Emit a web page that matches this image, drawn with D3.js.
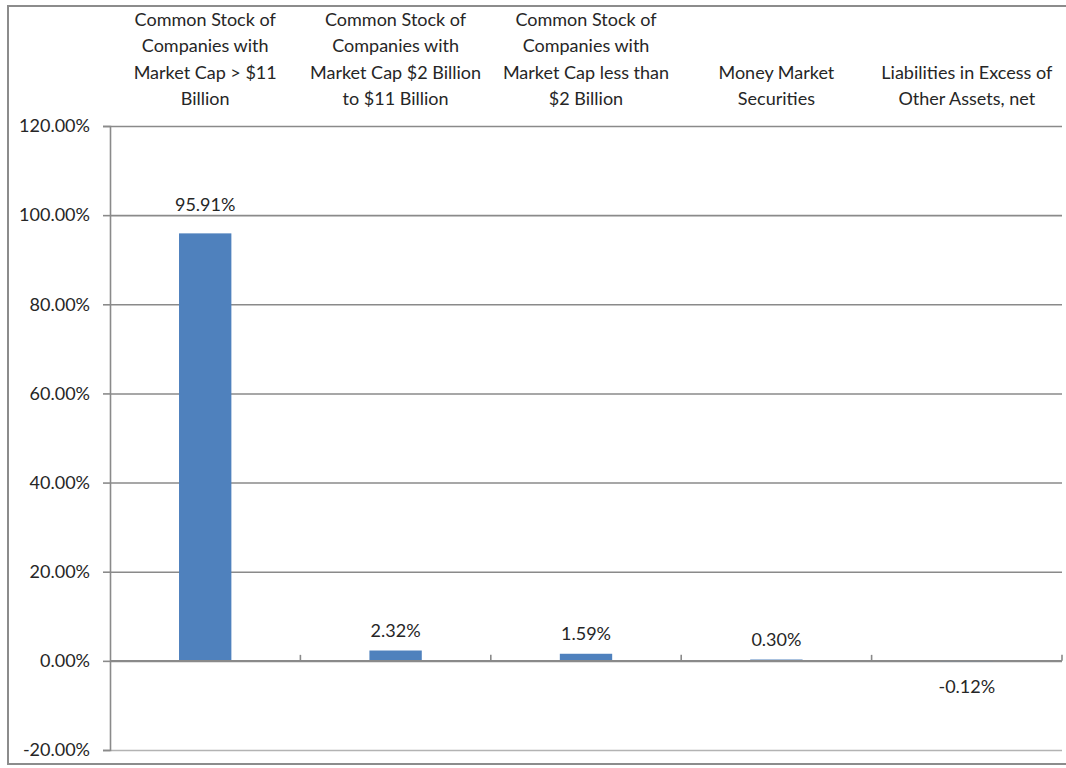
<!DOCTYPE html>
<html>
<head>
<meta charset="utf-8">
<script src="https://cdn.jsdelivr.net/npm/d3@7"></script>
<style>
    body { margin: 0; background: #fff; }
    text { font-family: Lato, "Liberation Sans", sans-serif; fill: #262626; }
</style>
</head>
<body>
<svg id="chart" width="1066" height="768"></svg>
<script>
// categories, each split into the lines shown above the plot
var categories = [
    ["Common Stock of", "Companies with", "Market Cap > $11", "Billion"],
    ["Common Stock of", "Companies with", "Market Cap $2 Billion", "to $11 Billion"],
    ["Common Stock of", "Companies with", "Market Cap less than", "$2 Billion"],
    ["Money Market", "Securities"],
    ["Liabilities in Excess of", "Other Assets, net"]
];
var values = [95.91, 2.32, 1.59, 0.30, -0.12];
var yTicks = [-20, 0, 20, 40, 60, 80, 100, 120];

var svg = d3.select("#chart");
var plotLeft = 110, plotRight = 1062, plotTop = 126, plotBottom = 750;

var x = d3.scaleBand().domain(d3.range(categories.length)).range([plotLeft, plotRight]).padding(0);
var y = d3.scaleLinear().domain([-20, 120]).range([plotBottom, plotTop]);
var fmt = function(d) { return d.toFixed(2) + "%"; };

// outer frame
svg.append("rect").attr("x", 8).attr("y", 6).attr("width", 1060).attr("height", 758)
    .attr("fill", "none").attr("stroke", "#8c8c8c").attr("stroke-width", 2);

// gridlines
var grid = svg.append("g").attr("transform", "translate(" + plotLeft + ",0)")
    .call(d3.axisLeft(y).tickValues(yTicks).tickSize(-(plotRight - plotLeft)).tickFormat(""));
grid.select(".domain").remove();
grid.selectAll("line").attr("stroke", "#8a8a8a").attr("stroke-width", 1.6);
grid.selectAll(".tick").filter(function(d) { return d == -20; }).select("line").attr("stroke", "#b3b3b3");

// y axis with tick labels
var yAxis = svg.append("g").attr("transform", "translate(" + plotLeft + ",0)")
    .call(d3.axisLeft(y).tickValues(yTicks).tickSize(7).tickPadding(13).tickFormat(fmt));
yAxis.select(".domain").attr("stroke", "#8a8a8a").attr("stroke-width", 1.6);
yAxis.selectAll(".tick line").attr("stroke", "#8a8a8a").attr("stroke-width", 1.6);
yAxis.selectAll("text").style("font-size", "18px").style("fill", "#262626")
    .style("font-family", "Lato, 'Liberation Sans', sans-serif");

// bars
var barW = x.bandwidth() * 0.275;
svg.selectAll("rect.bar").data(values).enter().append("rect").attr("class", "bar")
    .attr("x", function(d, i) { return x(i) + (x.bandwidth() - barW) / 2; })
    .attr("y", function(d) { return y(Math.max(0, d)); })
    .attr("width", barW)
    .attr("height", function(d) { return Math.abs(y(d) - y(0)); })
    .attr("fill", "#4f81bd");

// category axis at zero, ticks between categories pointing up
var boundaries = d3.range(1, categories.length + 1).map(function(i) { return plotLeft + i * x.step(); });
svg.append("line").attr("x1", plotLeft).attr("x2", plotRight).attr("y1", y(0)).attr("y2", y(0))
    .attr("stroke", "#8a8a8a").attr("stroke-width", 1.6);
svg.selectAll("line.xt").data(boundaries).enter().append("line").attr("class", "xt")
    .attr("x1", function(d) { return d; }).attr("x2", function(d) { return d; })
    .attr("y1", y(0) - 6).attr("y2", y(0))
    .attr("stroke", "#8a8a8a").attr("stroke-width", 1.6);

// value labels (nudged above a gridline if they would sit on it)
function labelY(d) {
    if (d < 0) return y(d) + 32;
    var base = y(d) - 14;
    yTicks.forEach(function(t) {
        if (t != 0 && y(t) > base - 14 && y(t) < base + 4) base = y(t) - 4;
    });
    return base;
}
svg.selectAll("text.val").data(values).enter().append("text").attr("class", "val")
    .attr("x", function(d, i) { return x(i) + x.bandwidth() / 2; })
    .attr("y", labelY)
    .attr("text-anchor", "middle")
    .style("font-size", "18px")
    .text(fmt);

// category labels, bottom aligned above the plot
var lineH = 26.4;
categories.forEach(function(lines, i) {
    var t = svg.append("text").attr("text-anchor", "middle").style("font-size", "18px");
    lines.forEach(function(s, j) {
        t.append("tspan")
            .attr("x", x(i) + x.bandwidth() / 2)
            .attr("y", 105 - (lines.length - 1 - j) * lineH)
            .text(s);
    });
});
</script>
</body>
</html>
